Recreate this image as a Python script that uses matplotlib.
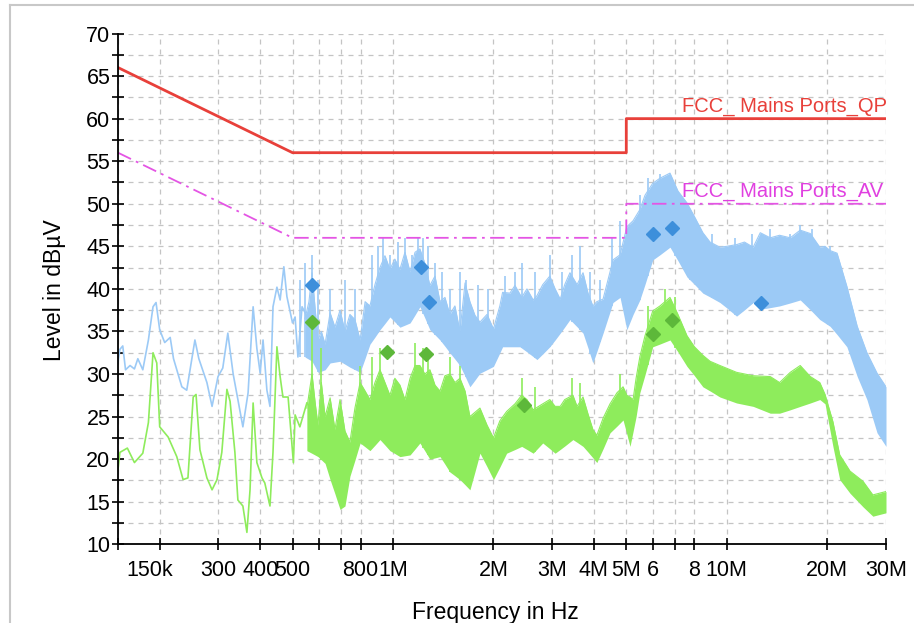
import matplotlib
matplotlib.use("Agg")
import matplotlib.pyplot as plt
import matplotlib.transforms as mtrans
import numpy as np
from matplotlib.lines import Line2D

plt.rcParams['font.family'] = ['Liberation Sans', 'DejaVu Sans']

# ---------------- data (frequency in MHz, level in dBuV) ----------------
# limit lines
qp_f = [0.15, 0.5, 5.0, 5.0, 30.0]
qp_l = [66.0, 56.0, 56.0, 60.0, 60.0]
av_f = [0.15, 0.5, 5.0, 5.0, 30.0]
av_l = [56.0, 46.0, 46.0, 50.0, 50.0]

# blue (peak) trace, low-frequency single line
blue_lo_f = [0.150, 0.152, 0.155, 0.158, 0.163, 0.168, 0.172, 0.178, 0.185, 0.191,
             0.195, 0.200, 0.207, 0.215, 0.220, 0.233, 0.241, 0.255, 0.262, 0.277,
             0.287, 0.299, 0.309, 0.320, 0.332, 0.343, 0.355, 0.368, 0.381, 0.391,
             0.400, 0.408, 0.419, 0.428, 0.437, 0.449, 0.459, 0.471, 0.481, 0.500,
             0.509, 0.519, 0.534, 0.552]
blue_lo_l = [31.4, 32.9, 33.3, 30.5, 31.0, 30.6, 31.8, 30.5, 34.0, 37.9,
             38.4, 35.2, 33.7, 34.3, 31.8, 28.5, 28.1, 34.0, 31.8, 29.0,
             26.2, 29.7, 30.7, 34.8, 30.0, 27.0, 23.8, 27.8, 37.9, 33.0,
             30.1, 34.0, 28.1, 26.2, 37.9, 40.2, 38.7, 42.6, 39.1, 36.0,
             36.7, 32.0, 37.9, 36.8]

# blue dense band: upper / lower envelopes of the body
blue_up_f = [0.545, 0.560, 0.572, 0.585, 0.596, 0.610, 0.626, 0.648, 0.670, 0.694,
             0.718, 0.743, 0.769, 0.797, 0.825, 0.853, 0.883, 0.914, 0.946, 0.979,
             1.013, 1.049, 1.086, 1.125, 1.164, 1.204, 1.246, 1.29, 1.336, 1.383,
             1.431, 1.48, 1.533, 1.587, 1.644, 1.70, 1.760, 1.822, 1.913, 2.0,
             2.09, 2.13, 2.24, 2.32, 2.43, 2.52, 2.63, 2.70, 2.81, 2.95,
             3.06, 3.17, 3.27, 3.39, 3.56, 3.71, 3.84, 3.97, 4.08, 4.26,
             4.47, 4.56, 4.79, 5.02, 5.24, 5.49, 5.69, 6.0, 6.31, 6.76,
             7.14, 7.60, 8.0, 8.48, 8.91, 9.54, 10.0, 10.7, 11.3, 12.0,
             12.6, 13.5, 14.4, 15.5, 16.6, 17.8, 19.0, 19.7, 20.4, 21.4,
             22.9, 24.6, 26.3, 28.2, 30.0]
blue_up_l = [36.5, 38.5, 41.9, 37.5, 34.0, 35.0, 33.5, 37.2, 35.5, 37.5,
             35.0, 37.0, 36.4, 34.0, 38.5, 38.0, 40.5, 42.5, 43.9, 42.3,
             43.5, 42.3, 44.3, 42.0, 44.3, 44.7, 43.0, 40.4, 41.5, 38.5,
             39.0, 37.0, 38.0, 35.0, 40.7, 38.5, 36.9, 36.1, 37.0, 35.3,
             38.0, 39.6, 39.5, 40.4, 39.0, 40.0, 38.7, 39.2, 40.5, 41.5,
             40.0, 38.8, 40.5, 41.9, 40.5, 41.9, 39.5, 38.0, 38.5, 38.8,
             42.0, 43.4, 44.0, 47.3, 48.0, 49.3, 51.0, 52.4, 53.0, 53.6,
             51.5, 50.1, 48.5, 46.6, 45.5, 44.9, 45.0, 45.2, 45.5, 44.9,
             46.6, 46.0, 46.3, 46.0, 46.9, 46.5, 44.9, 45.0, 44.5, 44.2,
             40.3, 35.6, 32.5, 30.1, 28.5]
blue_dn_f = [0.545, 0.572, 0.596, 0.626, 0.648, 0.694, 0.743, 0.797, 0.853, 0.914,
             0.979, 1.049, 1.125, 1.204, 1.29, 1.383, 1.48, 1.587, 1.70, 1.822,
             2.0, 2.13, 2.40, 2.70, 2.95, 3.17, 3.39, 3.71, 3.97, 4.26,
             4.56, 4.79, 5.02, 5.24, 5.49, 6.0, 6.76, 7.60, 8.48, 9.54,
             10.7, 12.0, 12.6, 14.4, 16.6, 19.0, 20.4, 22.9, 24.6, 26.3,
             28.2, 30.0]
blue_dn_l = [32.0, 31.5, 30.2, 30.5, 31.3, 31.5, 30.8, 30.2, 33.5, 35.2,
             36.7, 35.5, 36.0, 37.9, 35.2, 34.0, 32.5, 31.0, 28.5, 30.1,
             30.9, 33.2, 33.2, 31.7, 33.2, 34.8, 36.4, 34.8, 31.3, 34.8,
             38.4, 39.0, 35.2, 37.0, 38.7, 43.4, 44.9, 41.4, 39.5, 38.4,
             36.8, 38.4, 37.6, 38.0, 38.7, 36.4, 35.6, 33.2, 29.7, 27.0,
             23.1, 21.5]
# single spikes above the blue band
blue_spk_f = [0.526, 0.545, 0.572, 0.596, 0.648, 0.718, 0.769, 0.865, 0.902, 0.933,
              0.979, 1.035, 1.086, 1.14, 1.19, 1.23, 1.27, 1.336, 1.40, 1.48,
              1.587, 1.65, 1.80, 1.93, 2.16, 2.32, 2.43, 2.66, 2.95, 3.21,
              3.44, 3.63, 3.89, 4.17, 4.53, 4.79, 5.49, 5.80, 6.31, 6.52,
              7.0, 7.76, 8.31, 9.03, 10.6, 11.9, 13.5, 15.5, 16.6, 18.0, 20.4]
blue_spk_l = [41.0, 43.0, 44.0, 41.0, 40.0, 41.0, 40.0, 44.0, 45.0, 46.0,
              44.0, 45.5, 46.0, 44.0, 46.0, 46.0, 45.0, 43.0, 42.0, 40.0,
              42.0, 41.0, 40.5, 40.0, 41.5, 42.0, 43.0, 42.0, 44.0, 42.0,
              44.0, 45.0, 42.0, 41.0, 46.0, 48.0, 51.0, 53.0, 53.5, 52.0,
              52.0, 49.0, 47.0, 46.5, 46.0, 46.5, 47.0, 46.5, 47.5, 47.0, 45.0]

# green (average) trace, low-frequency single line
green_lo_f = [0.150, 0.152, 0.160, 0.168, 0.178, 0.185, 0.191, 0.196, 0.200, 0.212,
              0.225, 0.235, 0.243, 0.252, 0.257, 0.264, 0.277, 0.287, 0.297, 0.307,
              0.318, 0.325, 0.336, 0.343, 0.355, 0.365, 0.373, 0.381, 0.391, 0.405,
              0.413, 0.428, 0.437, 0.449, 0.459, 0.468, 0.485, 0.503, 0.509, 0.526,
              0.552]
green_lo_l = [18.8, 20.8, 21.3, 19.6, 20.7, 24.3, 32.5, 31.3, 23.8, 22.6,
              20.3, 17.6, 17.8, 27.3, 27.6, 21.1, 17.8, 16.4, 17.6, 20.8,
              28.2, 26.8, 20.8, 15.2, 14.5, 11.4, 16.4, 26.6, 19.6, 17.8,
              17.2, 14.5, 20.8, 33.2, 29.7, 27.3, 27.3, 19.6, 25.2, 23.8,
              26.6]

# green dense band: upper / lower envelopes
green_up_f = [0.552, 0.572, 0.585, 0.596, 0.610, 0.626, 0.648, 0.670, 0.694, 0.718,
              0.743, 0.769, 0.797, 0.825, 0.853, 0.883, 0.914, 0.946, 0.979, 1.013,
              1.049, 1.086, 1.125, 1.164, 1.204, 1.246, 1.29, 1.336, 1.383, 1.431,
              1.48, 1.533, 1.587, 1.644, 1.70, 1.760, 1.822, 1.913, 2.0, 2.09,
              2.19, 2.32, 2.43, 2.52, 2.63, 2.81, 2.95, 3.06, 3.17, 3.27,
              3.46, 3.56, 3.71, 3.84, 3.97, 4.08, 4.26, 4.47, 4.69, 4.89,
              5.02, 5.13, 5.24, 5.35, 5.49, 5.69, 6.0, 6.31, 6.76, 7.14,
              7.60, 8.0, 8.48, 8.91, 9.54, 10.7, 12.0, 13.5, 14.4, 15.5,
              16.6, 17.8, 19.0, 19.7, 20.8, 21.8, 23.4, 25.6, 27.4, 30.0]
green_up_l = [26.0, 30.0, 26.5, 24.0, 29.0, 25.0, 27.2, 23.5, 27.0, 23.3,
              22.0, 26.0, 29.0, 28.0, 27.0, 29.0, 30.5, 29.0, 27.5, 29.5,
              28.7, 27.0, 29.5, 31.0, 31.0, 30.0, 30.5, 28.7, 28.0, 29.8,
              30.0, 29.0, 29.5, 28.0, 25.0, 25.5, 26.0, 24.0, 22.5, 24.5,
              25.6, 26.5, 27.5, 27.0, 25.8, 26.5, 27.0, 26.2, 26.2, 27.0,
              27.5, 26.2, 27.3, 25.3, 23.5, 22.8, 24.8, 26.5, 27.8, 28.5,
              27.5, 27.3, 27.0, 29.5, 32.0, 34.5, 37.4, 38.0, 39.0, 37.0,
              34.5, 33.2, 32.2, 31.5, 31.0, 30.2, 29.8, 29.7, 29.0, 30.2,
              31.0, 29.7, 29.0, 27.6, 24.4, 20.5, 18.6, 17.4, 15.8, 16.2]
green_dn_f = [0.552, 0.596, 0.626, 0.648, 0.694, 0.718, 0.743, 0.797, 0.853, 0.914,
              0.979, 1.049, 1.125, 1.204, 1.29, 1.383, 1.48, 1.587, 1.70, 1.822,
              2.0, 2.19, 2.43, 2.63, 2.81, 3.06, 3.46, 3.71, 4.08, 4.47,
              4.89, 5.13, 5.35, 5.49, 6.0, 6.76, 7.60, 8.48, 9.54, 10.7,
              12.0, 13.5, 14.4, 16.6, 19.0, 19.7, 20.8, 21.8, 23.4, 25.6,
              27.4, 30.0]
green_dn_l = [21.0, 20.3, 19.5, 17.6, 14.1, 14.5, 18.0, 21.9, 21.0, 22.3,
              21.0, 20.3, 20.5, 21.9, 20.0, 20.3, 18.5, 17.6, 16.4, 20.7,
              17.6, 20.7, 21.5, 20.7, 21.9, 20.7, 22.3, 21.5, 19.6, 23.1,
              24.6, 21.5, 25.0, 27.8, 33.2, 34.0, 30.9, 28.5, 27.3, 26.6,
              26.2, 25.4, 25.4, 26.2, 27.0, 26.5, 21.5, 17.6, 16.0, 14.4,
              13.3, 13.7]
# single spikes above the green band
green_spk_f = [0.572, 0.610, 0.797, 0.865, 0.914, 1.164, 1.23, 1.27, 1.48, 1.587,
               2.43, 2.66, 3.44, 3.63, 4.79, 5.80, 6.52, 7.0]
green_spk_l = [36.0, 33.0, 31.0, 32.0, 33.0, 33.6, 33.0, 32.0, 32.0, 31.0,
               29.5, 28.5, 29.5, 29.0, 30.0, 38.0, 40.0, 39.0]

# final measurement markers
qp_mk_f = [0.572, 1.21, 1.28, 6.01, 6.86, 12.7]
qp_mk_l = [40.5, 42.6, 38.5, 46.5, 47.1, 38.4]
av_mk_f = [0.572, 0.960, 1.26, 2.47, 6.01, 6.86]
av_mk_l = [36.1, 32.6, 32.3, 26.4, 34.7, 36.3]

# axis ticks
xtick_f = [0.15, 0.2, 0.3, 0.4, 0.5, 0.6, 0.7, 0.8, 1, 2, 3, 4, 5, 6, 7, 8, 10, 20, 30]
xtick_lab = ["150k", "", "300", "400", "500", "", "", "800", "1M", "2M", "3M", "4M",
             "5M", "6", "", "8", "10M", "20M", "30M"]
ytick_major = [10, 15, 20, 25, 30, 35, 40, 45, 50, 55, 60, 65, 70]

# ---------------- plotting ----------------
W, H = 914, 623
fig = plt.figure(figsize=(W / 100, H / 100), dpi=100)
ax = fig.add_axes([118 / W, 1 - 544.3 / H, (886 - 118) / W, (544.3 - 33.5) / H])

M = 1e6
c_blue = "#9ccaf6"
c_green = "#8eec5c"


def hz(a):
    return np.asarray(a) * M


# blue band
bf = np.union1d(blue_up_f, blue_dn_f)
ax.fill_between(hz(bf), np.interp(bf, blue_dn_f, blue_dn_l), np.interp(bf, blue_up_f, blue_up_l),
                color=c_blue, lw=0, zorder=2)
ax.plot(hz(blue_up_f), blue_up_l, color=c_blue, lw=0.8, zorder=2)
ax.vlines(hz(blue_spk_f), np.interp(blue_spk_f, blue_dn_f, blue_dn_l), blue_spk_l,
          color=c_blue, lw=1.2, zorder=2)
ax.plot(hz(blue_lo_f), blue_lo_l, color=c_blue, lw=1.2, zorder=2)

# green band
gf = np.union1d(green_up_f, green_dn_f)
ax.fill_between(hz(gf), np.interp(gf, green_dn_f, green_dn_l), np.interp(gf, green_up_f, green_up_l),
                color=c_green, lw=0, zorder=3)
ax.plot(hz(green_up_f), green_up_l, color=c_green, lw=0.8, zorder=3)
ax.vlines(hz(green_spk_f), np.interp(green_spk_f, green_dn_f, green_dn_l), green_spk_l,
          color=c_green, lw=1.2, zorder=3)
ax.plot(hz(green_lo_f), green_lo_l, color=c_green, lw=1.2, zorder=3)

# limit lines
ax.plot(hz(qp_f), qp_l, color="#e8403a", lw=2.0, zorder=5)
ax.plot(hz(av_f), av_l, color="#e455e4", lw=1.3, ls=(0, (8, 3, 1.5, 3)), zorder=5)

# markers
ax.plot(hz(qp_mk_f), qp_mk_l, ls="none", marker="D", ms=7, color="#3d8fdb", zorder=6)
ax.plot(hz(av_mk_f), av_mk_l, ls="none", marker="D", ms=7, color="#5db83a", zorder=6)

# labels of limit lines
ax.text(7.34 * M, 60.35, "FCC_ Mains Ports_QP", color="#e8403a", fontsize=14.5,
        ha="left", va="bottom", zorder=7)
ax.text(7.34 * M, 50.35, "FCC_ Mains Ports_AV", color="#e040e0", fontsize=14.5,
        ha="left", va="bottom", zorder=7)

ax.set_xscale("log")
ax.set_xlim(0.15 * M, 30 * M)
ax.set_ylim(10, 70)
ax.set_xticks(hz(xtick_f))
ax.set_xticklabels(xtick_lab)
ax.xaxis.set_minor_locator(matplotlib.ticker.NullLocator())
ax.set_yticks(ytick_major)
ax.set_yticks(np.arange(12.5, 70, 5), minor=True)

ax.grid(True, which="both", axis="both", color="#c4c4c4", ls=(0, (4, 4)), lw=0.9)
ax.set_axisbelow(True)
for s in ["top", "right"]:
    ax.spines[s].set_visible(False)
for s in ["left", "bottom"]:
    ax.spines[s].set_linewidth(1.3)
    ax.spines[s].set_zorder(8)
ax.tick_params(axis="both", which="both", direction="inout", length=9, width=1.2,
               labelsize=15.5, colors="black")
ax.tick_params(axis="x", which="major", pad=7)
ax.tick_params(axis="y", which="major", pad=1)
ax.tick_params(axis="y", which="minor", length=8)

first = ax.get_xticklabels()[0]
first.set_horizontalalignment("left")
first.set_transform(first.get_transform() +
                    mtrans.ScaledTranslation(8 / 100, 0, fig.dpi_scale_trans))

fig.text(55 / W, 1 - 290 / H, "Level in dBµV", rotation=90, ha="center", va="center",
         fontsize=16.5)
fig.text(495 / W, 1 - 613 / H, "Frequency in Hz", ha="center", va="center", fontsize=16.5)

# outer frame (top and left edges visible)
fig.add_artist(Line2D([10 / W, 10 / W], [0, 1 - 5 / H], transform=fig.transFigure,
                      color="#c8c8c8", lw=1.5))
fig.add_artist(Line2D([10 / W, 1], [1 - 5 / H, 1 - 5 / H], transform=fig.transFigure,
                      color="#c8c8c8", lw=1.5))

fig.savefig("out.png", dpi=100)
